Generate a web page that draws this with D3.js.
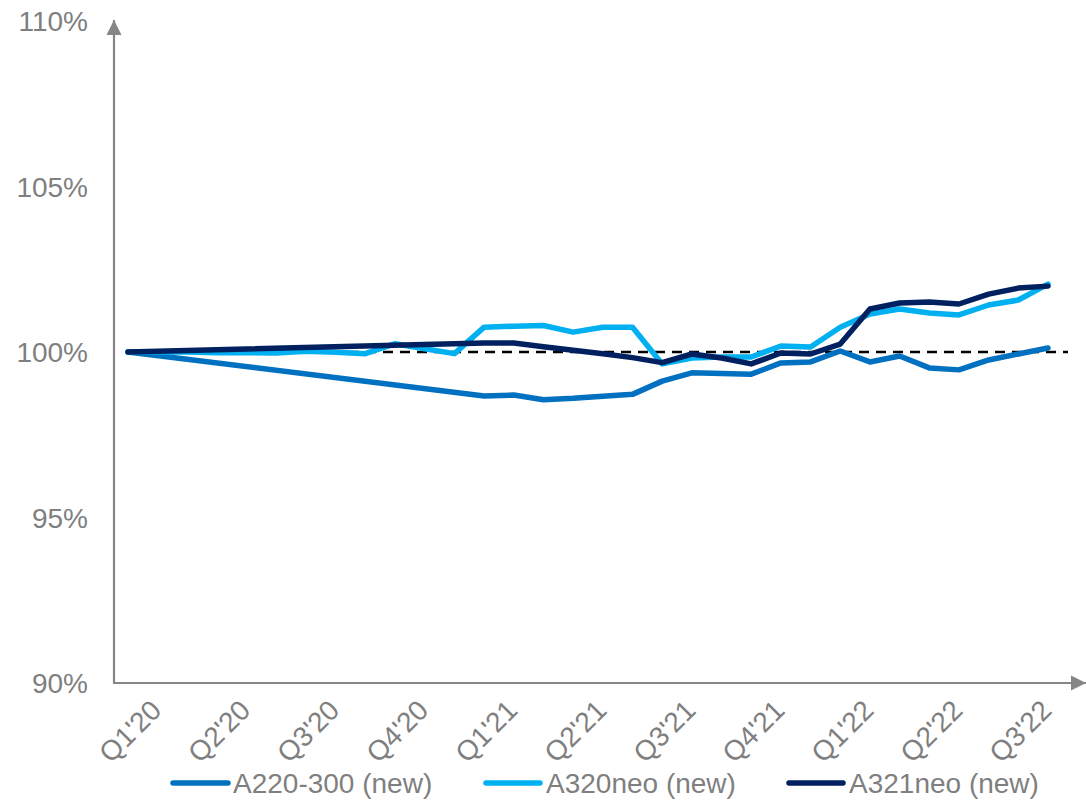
<!DOCTYPE html>
<html>
<head>
<meta charset="utf-8">
<script src="https://cdn.jsdelivr.net/npm/d3@7"></script>
<style>
  html, body { margin: 0; padding: 0; background: #ffffff; }
  svg { display: block; }
  text { font-family: "Liberation Sans", Arial, sans-serif; }
</style>
</head>
<body>
<svg id="chart" width="1086" height="800"></svg>
<script>
// ---- data ----
const months = ["Jan'20","Feb'20","Mar'20","Apr'20","May'20","Jun'20","Jul'20","Aug'20","Sep'20","Oct'20","Nov'20","Dec'20",
                "Jan'21","Feb'21","Mar'21","Apr'21","May'21","Jun'21","Jul'21","Aug'21","Sep'21","Oct'21","Nov'21","Dec'21",
                "Jan'22","Feb'22","Mar'22","Apr'22","May'22","Jun'22","Jul'22","Aug'22"];
const quarterLabels = ["Q1'20","Q2'20","Q3'20","Q4'20","Q1'21","Q2'21","Q3'21","Q4'21","Q1'22","Q2'22","Q3'22"];
const quarterMonths = ["Jan'20","Apr'20","Jul'20","Oct'20","Jan'21","Apr'21","Jul'21","Oct'21","Jan'22","Apr'22","Jul'22"];
const seriesNames = ["A220-300 (new)", "A320neo (new)", "A321neo (new)"];
const a220 = [100, null, null, null, null, null, null, null, null, null, null, null,
              98.67, 98.70, 98.56, 98.60, 98.66, 98.72, 99.12, 99.37, 99.35, 99.33, 99.67, 99.70,
              100.03, 99.70, 99.88, 99.52, 99.46, 99.76, 99.94, 100.12];
const a320neo = [100, 100, 100, 99.98, 99.98, 99.97, 100.02, 99.99, 99.95, 100.25, 100.10, 99.95,
                 100.75, 100.78, 100.80, 100.60, 100.75, 100.75, 99.64, 99.82, 99.85, 99.85, 100.18, 100.15,
                 100.75, 101.15, 101.30, 101.18, 101.12, 101.42, 101.57, 102.05];
const a321neo = [100, null, null, null, null, null, null, null, null, null, null, null,
                 100.27, 100.27, 100.16, 100.05, 99.95, 99.83, 99.68, 99.94, 99.82, 99.64, 99.97, 99.94,
                 100.24, 101.30, 101.48, 101.51, 101.45, 101.75, 101.93, 101.99];
const yTicks = [90, 95, 100, 105, 110];
const baseline = 100;

// ---- styles ----
const colors = ["#0070C0", "#00B0F0", "#002060"];
const axisColor = "#868686";
const textColor = "#7F7F7F";

const svg = d3.select("#chart");

const x = d3.scalePoint().domain(months).range([128, 1048]);
const y = d3.scaleLinear().domain([90, 110]).range([683, 21]);

const axisX0 = 114;

// y tick labels
const yAxis = d3.axisLeft(y).tickValues(yTicks).tickSize(0).tickPadding(26)
  .tickFormat(d => d + "%");
const gy = svg.append("g").attr("transform", `translate(${axisX0},0)`).call(yAxis);
gy.select(".domain").remove();
gy.selectAll("text").attr("fill", textColor).style("font-size", "28px")
  .style("font-family", "'Liberation Sans', Arial, sans-serif").attr("dy", "0.35em");

// x tick labels (rotated)
const gx = svg.append("g");
gx.selectAll("text").data(quarterMonths).join("text")
  .attr("transform", (d) => `translate(${x(d) + 35},712) rotate(-45)`)
  .attr("text-anchor", "end")
  .attr("fill", textColor)
  .style("font-size", "28px")
  .text((d, i) => quarterLabels[i]);

// baseline dashed line (under series)
svg.append("line")
  .attr("x1", x(months[0])).attr("x2", 1068)
  .attr("y1", y(baseline)).attr("y2", y(baseline))
  .attr("stroke", "#000").attr("stroke-width", 2.5)
  .attr("stroke-dasharray", "10,7");

// axes lines with arrows
const defs = svg.append("defs");
defs.append("marker").attr("id", "arrow")
  .attr("viewBox", "0 0 10 10").attr("refX", 10).attr("refY", 5)
  .attr("markerWidth", 15).attr("markerHeight", 16).attr("markerUnits", "userSpaceOnUse")
  .attr("orient", "auto")
  .append("path").attr("d", "M0,0 L10,5 L0,10 Z").attr("fill", axisColor);

svg.append("line")
  .attr("x1", axisX0).attr("y1", y(90)).attr("x2", axisX0).attr("y2", 20)
  .attr("stroke", axisColor).attr("stroke-width", 2.2).attr("marker-end", "url(#arrow)");
svg.append("line")
  .attr("x1", axisX0 - 1).attr("y1", y(90)).attr("x2", 1086).attr("y2", y(90))
  .attr("stroke", axisColor).attr("stroke-width", 2.2).attr("marker-end", "url(#arrow)");

// series lines
const seriesData = [a220, a320neo, a321neo];
const line = d3.line().x(d => x(d.m)).y(d => y(d.v));
seriesData.forEach((arr, i) => {
  const pts = arr.map((v, k) => ({ m: months[k], v })).filter(d => d.v !== null);
  svg.append("path").datum(pts)
    .attr("d", line)
    .attr("fill", "none")
    .attr("stroke", colors[i])
    .attr("stroke-width", 5.5)
    .attr("stroke-linejoin", "round")
    .attr("stroke-linecap", "round");
});

// legend
const legendItems = [
  { x1: 173, x2: 228, tx: 233 },
  { x1: 486, x2: 540, tx: 546 },
  { x1: 789, x2: 843, tx: 849 }
];
const lg = svg.append("g");
legendItems.forEach((it, i) => {
  lg.append("line").attr("x1", it.x1).attr("x2", it.x2).attr("y1", 783).attr("y2", 783)
    .attr("stroke", colors[i]).attr("stroke-width", 5.5).attr("stroke-linecap", "round");
  lg.append("text").attr("x", it.tx).attr("y", 793).attr("fill", textColor)
    .style("font-size", "28px").text(seriesNames[i]);
});
</script>
</body>
</html>
